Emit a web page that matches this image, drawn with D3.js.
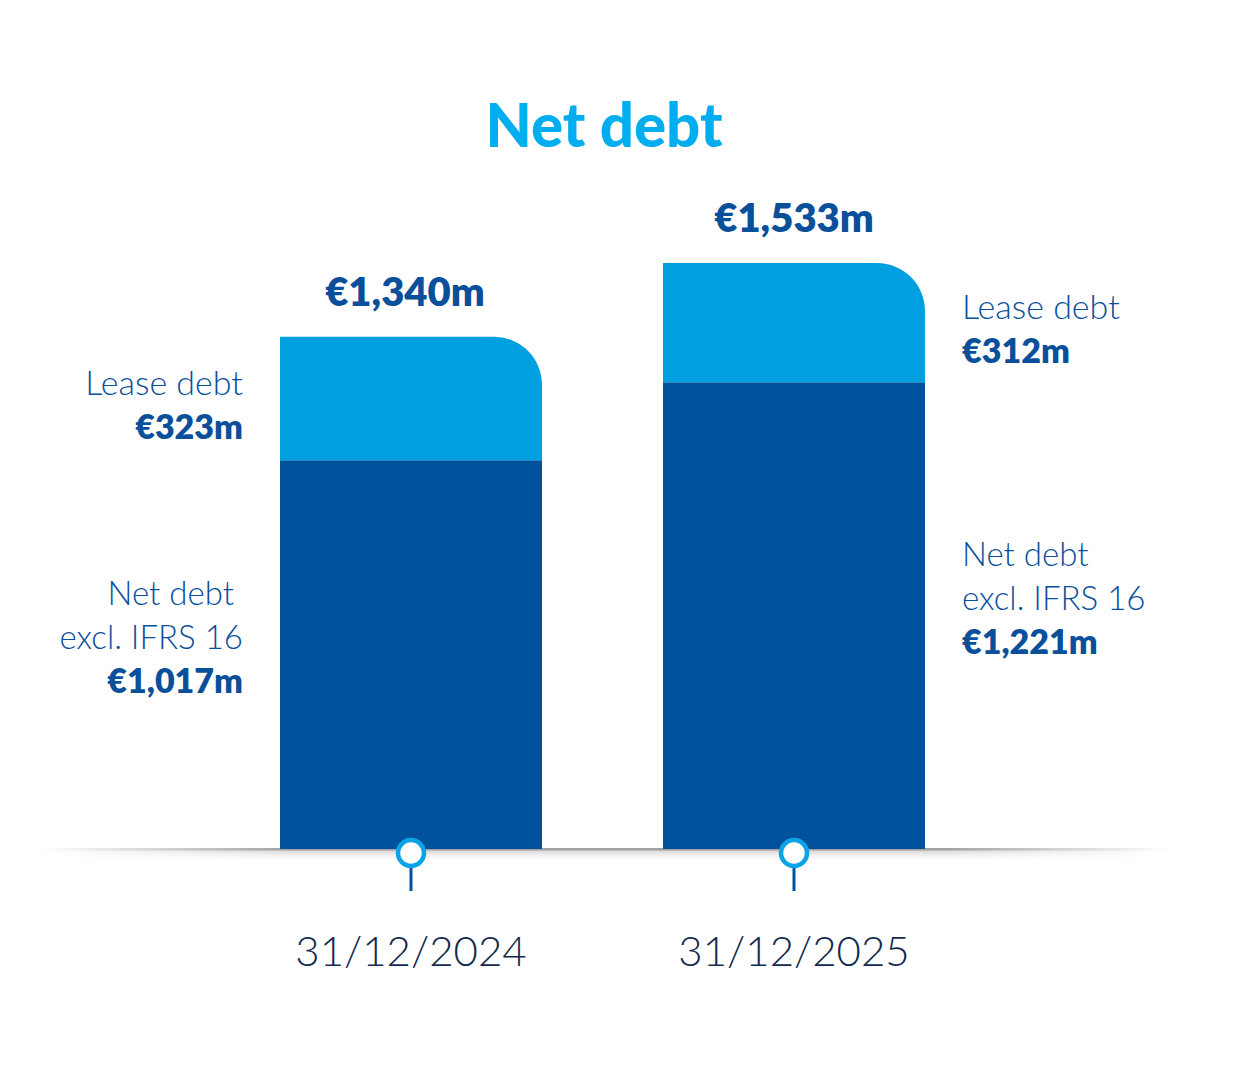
<!DOCTYPE html>
<html>
<head>
<meta charset="utf-8">
<script src="https://cdn.jsdelivr.net/npm/d3@7"></script>
<style>
  body { margin: 0; background: #fff; }
  svg text { font-family: Lato, "Noto Sans", sans-serif; }
</style>
</head>
<body>
<svg id="chart"></svg>
<script>
// Data
const dates = ["31/12/2024", "31/12/2025"];
const netDebtExcl = [1017, 1221];
const leaseDebt = [323, 312];
const totals = [1340, 1533];

const W = 1256, H = 1080;
const baseY = 849;

const svg = d3.select("#chart")
  .attr("width", W)
  .attr("height", H);

const defs = svg.append("defs");

// vertical shadow under the baseline
const sg = defs.append("linearGradient").attr("id", "shadowGrad")
  .attr("x1", 0).attr("x2", 0).attr("y1", 0).attr("y2", 1);
sg.append("stop").attr("offset", "0%").attr("stop-color", "#d4d4d4").attr("stop-opacity", 1);
sg.append("stop").attr("offset", "100%").attr("stop-color", "#ffffff").attr("stop-opacity", 0);

// horizontal fade at both ends
const fw = defs.append("linearGradient").attr("id", "fadeWhite");
fw.append("stop").attr("offset", "0%").attr("stop-color", "#fff").attr("stop-opacity", 0);
fw.append("stop").attr("offset", "22%").attr("stop-color", "#fff").attr("stop-opacity", 1);
fw.append("stop").attr("offset", "80%").attr("stop-color", "#fff").attr("stop-opacity", 1);
fw.append("stop").attr("offset", "100%").attr("stop-color", "#fff").attr("stop-opacity", 0);
const mask = defs.append("mask").attr("id", "fadeMask")
  .attr("maskUnits", "userSpaceOnUse")
  .attr("x", 0).attr("y", 0).attr("width", W).attr("height", H);
mask.append("rect").attr("x", 40).attr("y", 800).attr("width", 1130).attr("height", 100)
  .attr("fill", "url(#fadeWhite)");

// Scales
const x = d3.scaleBand()
  .domain(dates)
  .range([280, 925])
  .paddingInner(0.316)
  .paddingOuter(0);

const y = d3.scaleLinear()
  .domain([0, 1533])
  .range([baseY, 263]);

// Title
svg.append("text")
  .attr("x", 604)
  .attr("y", 147)
  .attr("text-anchor", "middle")
  .attr("fill", "#00aeef")
  .style("font-size", "60px")
  .style("font-weight", 900)
  .text("Net debt");

// Baseline with soft shadow
const baseG = svg.append("g").attr("mask", "url(#fadeMask)");
baseG.append("rect")
  .attr("x", 40).attr("y", baseY + 1)
  .attr("width", 1130).attr("height", 13)
  .attr("fill", "url(#shadowGrad)");
baseG.append("rect")
  .attr("x", 40).attr("y", baseY - 1)
  .attr("width", 1130).attr("height", 2.5)
  .attr("fill", "#a2a2a2");

// Net debt excl. IFRS 16 bars
svg.selectAll(".bar-net")
  .data(dates)
  .enter()
  .append("rect")
  .attr("class", "bar-net")
  .attr("x", d => x(d))
  .attr("y", (d, i) => y(netDebtExcl[i]))
  .attr("width", x.bandwidth())
  .attr("height", (d, i) => y(0) - y(netDebtExcl[i]))
  .attr("fill", "#00529c");

// Lease debt segments with rounded top-right corner
const r = 48;
svg.selectAll(".bar-lease")
  .data(dates)
  .enter()
  .append("path")
  .attr("class", "bar-lease")
  .attr("fill", "#009fe0")
  .attr("d", (d, i) => {
    const x0 = x(d), x1 = x(d) + x.bandwidth();
    const yb = y(netDebtExcl[i]), yt = y(netDebtExcl[i] + leaseDebt[i]);
    return `M${x0},${yb} L${x0},${yt} L${x1 - r},${yt} A${r},${r} 0 0 1 ${x1},${yt + r} L${x1},${yb} Z`;
  });

// Totals above bars
svg.selectAll(".total")
  .data(dates)
  .enter()
  .append("text")
  .attr("class", "total")
  .attr("x", (d, i) => x(d) + x.bandwidth() / 2 - (i === 0 ? 6 : 0))
  .attr("y", (d, i) => y(totals[i]) - 31)
  .attr("text-anchor", "middle")
  .attr("fill", "#0a4f9a")
  .style("font-size", "40px")
  .style("font-weight", 800)
  .text((d, i) => "€" + d3.format(",")(totals[i]) + "m");

// Side labels
const labelColor = "#0a4f9a";
const lh = 44;
dates.forEach((d, i) => {
  const left = i === 0;
  const lx = left ? x(d) - 37 : x(d) + x.bandwidth() + 37;
  const anchor = left ? "end" : "start";

  // lease debt label
  const leaseMid = (y(netDebtExcl[i]) + y(totals[i])) / 2;
  svg.append("text")
    .attr("x", lx).attr("y", leaseMid - 4)
    .attr("text-anchor", anchor).attr("fill", labelColor)
    .style("font-size", "34px").style("font-weight", 300)
    .text("Lease debt");
  svg.append("text")
    .attr("x", lx).attr("y", leaseMid - 4 + lh)
    .attr("text-anchor", anchor).attr("fill", labelColor)
    .style("font-size", "34px").style("font-weight", 800)
    .text("€" + leaseDebt[i] + "m");

  // net debt excl. IFRS 16 label
  const netMid = (y(0) + y(netDebtExcl[i])) / 2;
  const b = netMid - 50;
  svg.append("text")
    .attr("x", lx - (left ? 9 : 0)).attr("y", b)
    .attr("text-anchor", anchor).attr("fill", labelColor)
    .style("font-size", "33px").style("font-weight", 300)
    .text("Net debt");
  svg.append("text")
    .attr("x", lx).attr("y", b + lh)
    .attr("text-anchor", anchor).attr("fill", labelColor)
    .style("font-size", "33px").style("font-weight", 300)
    .text("excl. IFRS 16");
  svg.append("text")
    .attr("x", lx).attr("y", b + 2 * lh)
    .attr("text-anchor", anchor).attr("fill", labelColor)
    .style("font-size", "34px").style("font-weight", 800)
    .text("€" + d3.format(",")(netDebtExcl[i]) + "m");
});

// Markers below baseline
const markers = svg.selectAll(".marker")
  .data(dates)
  .enter()
  .append("g")
  .attr("class", "marker")
  .attr("transform", d => `translate(${x(d) + x.bandwidth() / 2},${baseY + 4})`);

markers.append("line")
  .attr("x1", 0).attr("x2", 0)
  .attr("y1", 12).attr("y2", 38)
  .attr("stroke", "#00529c")
  .attr("stroke-width", 3);

markers.append("circle")
  .attr("r", 13)
  .attr("fill", "#fff")
  .attr("stroke", "#0aa3e8")
  .attr("stroke-width", 4.5);

// Date labels
svg.selectAll(".date")
  .data(dates)
  .enter()
  .append("text")
  .attr("class", "date")
  .attr("x", d => x(d) + x.bandwidth() / 2)
  .attr("y", 966)
  .attr("text-anchor", "middle")
  .attr("fill", "#142a4c")
  .style("font-size", "42px")
  .style("font-weight", 300)
  .text(d => d);
</script>
</body>
</html>
